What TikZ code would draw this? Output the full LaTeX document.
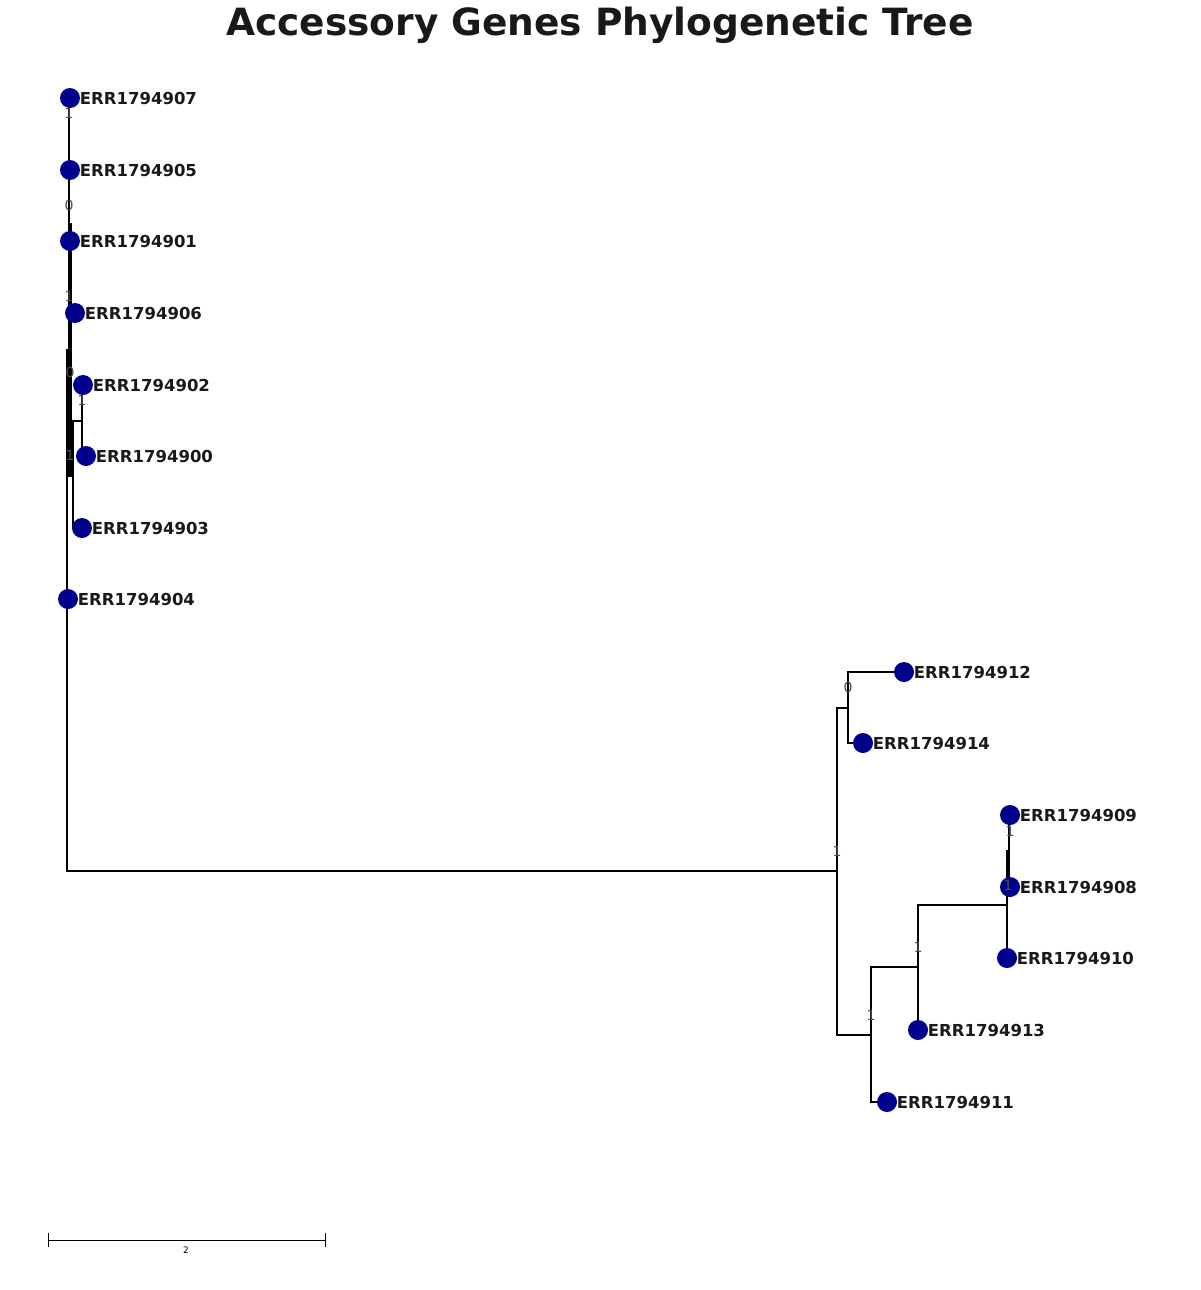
\documentclass[tikz,border=0pt]{standalone}
\usepackage{fontspec}
\setmainfont{DejaVu Sans}
\begin{document}
\begin{tikzpicture}[x=1pt,y=-1pt,
  br/.style={line width=2.8pt,line cap=rect},
  leaf/.style={circle,fill=blue!55!black,inner sep=0pt,minimum size=20pt},
  lab/.style={anchor=west,font=\bfseries\fontsize{16.5}{18}\selectfont,text=black!90,inner sep=0.5pt},
  sup/.style={font=\fontsize{14}{15}\selectfont,text=black!70,inner sep=0pt}]
\useasboundingbox (0,0) rectangle (1200,1290);
\node[font=\bfseries\fontsize{37.5}{40}\selectfont,text=black!90] (title) at (600,25) {Accessory Genes Phylogenetic Tree};
% left clade
\draw[br] (69,98) -- (69,240);
\draw[br,line width=3.5pt] (70,225) -- (70,475);
\draw[br] (70,475) -- (73,475) (73,421) -- (73,527) -- (82,527);
\draw[br] (73,421) -- (82,421) (82,384) -- (82,456) -- (86,456);
\draw[br] (70,313) -- (75,313);
\draw[br] (67,350) -- (67,871) -- (837,871);
% right clade
\draw[br] (848,708) -- (837,708) -- (837,1035) -- (871,1035);
\draw[br] (904,672) -- (848,672) -- (848,743) -- (863,743);
\draw[br] (887,1102) -- (871,1102) -- (871,967) -- (918,967) -- (918,1030);
\draw[br] (918,967) -- (918,905) -- (1007,905);
\draw[br] (1009,815) -- (1009,887) (1007,851) -- (1007,958);
% leaves
\foreach \n/\x/\y in {907/70/98,905/70/170,901/70/241,906/75/313,902/83/385,900/86/456,903/82/528,904/68/599,912/904/672,914/863/743,909/1010/815,908/1010/887,910/1007/958,913/918/1030,911/887/1102}{
  \node[leaf] (n\n) at (\x,\y) {};
  \node[lab] (l\n) at ([xshift=-1pt]n\n.east) {ERR1794\n};
}
% support values
\foreach \v/\x/\y [count=\i] in {1/69/113,0/69/205,1/69/296,0/70/372,1/82/400,1/70/455,0/848/687,1/837/851,1/1010/831,1/1008/885,1/918/947,1/871/1015}{
  \node[sup] (s\i) at (\x,\y) {\v};
}
% scale bar
\coordinate (sa) at (48,1240); \coordinate (sb) at (325,1240);
\draw[line width=0.8pt] (sa) -- (sb) (48,1233) -- (48,1247) (325,1233) -- (325,1247);
\node[font=\fontsize{9}{10}\selectfont\rmfamily] (sl) at (186,1250) {2};
\end{tikzpicture}
\end{document}
